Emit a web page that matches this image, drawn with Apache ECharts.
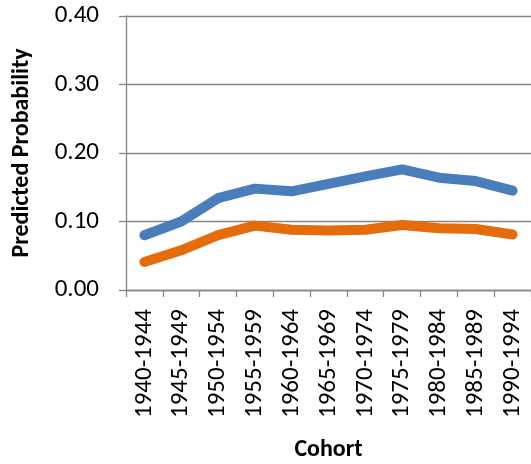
<!DOCTYPE html>
<html>
<head>
<meta charset="utf-8">
<script src="https://cdn.jsdelivr.net/npm/echarts@6/dist/echarts.min.js"></script>
<style>
  html, body { margin: 0; padding: 0; background: #fff; }
  #chart { width: 531px; height: 464px; }
</style>
</head>
<body>
<div id="chart"></div>
<script>
// cohort categories
const cohorts = ['1940-1944', '1945-1949', '1950-1954', '1955-1959', '1960-1964',
  '1965-1969', '1970-1974', '1975-1979', '1980-1984', '1985-1989', '1990-1994']
// predicted probabilities
const blueSeries = [0.080, 0.100, 0.134, 0.148, 0.144, 0.155, 0.166, 0.176, 0.164, 0.159, 0.145]
const orangeSeries = [0.041, 0.058, 0.080, 0.094, 0.088, 0.087, 0.088, 0.095, 0.090, 0.089, 0.081]

const font = 'Carlito, "Open Sans", "Liberation Sans", sans-serif'
const gray = '#868686'

let myChart = echarts.init(document.getElementById('chart'), null, { renderer: 'canvas' })
let option = {
  animation: false,
  grid: { left: 126, top: 16, right: 0, bottom: 174, containLabel: false, outerBoundsMode: 'none' },
  xAxis: {
    type: 'category',
    data: cohorts,
    boundaryGap: true,
    name: 'Cohort',
    nameLocation: 'middle',
    nameGap: 148,
    nameTextStyle: { fontFamily: font, fontSize: 24, fontWeight: 'bold', color: '#000' },
    axisLine: { lineStyle: { color: gray, width: 1.3 } },
    axisTick: { show: true, length: 7, alignWithLabel: false, lineStyle: { color: gray, width: 1.3 } },
    axisLabel: { rotate: 90, margin: 19, fontFamily: font, fontSize: 25, color: '#000', interval: 0 },
    splitLine: { show: false }
  },
  yAxis: {
    type: 'value',
    min: 0,
    max: 0.4,
    interval: 0.1,
    name: 'Predicted Probability',
    nameLocation: 'middle',
    nameRotate: 90,
    nameGap: 92,
    nameTextStyle: { fontFamily: font, fontSize: 24, fontWeight: 'bold', color: '#000' },
    axisLine: { show: true, lineStyle: { color: gray, width: 1.3 } },
    axisTick: { show: true, length: 7, lineStyle: { color: gray, width: 1.3 } },
    axisLabel: {
      margin: 27, fontFamily: font, fontSize: 25, color: '#000',
      formatter: (v) => v.toFixed(2)
    },
    splitLine: { show: true, lineStyle: { color: gray, width: 1.3 } }
  },
  series: [
    {
      name: 'blue',
      type: 'line',
      data: blueSeries,
      symbol: 'none',
      lineStyle: { color: '#4A7EBB', width: 10, cap: 'round', join: 'round' },
      itemStyle: { color: '#4A7EBB' }
    },
    {
      name: 'orange',
      type: 'line',
      data: orangeSeries,
      symbol: 'none',
      lineStyle: { color: '#E46C0A', width: 10, cap: 'round', join: 'round' },
      itemStyle: { color: '#E46C0A' }
    }
  ]
}
myChart.setOption(option)
</script>
</body>
</html>
